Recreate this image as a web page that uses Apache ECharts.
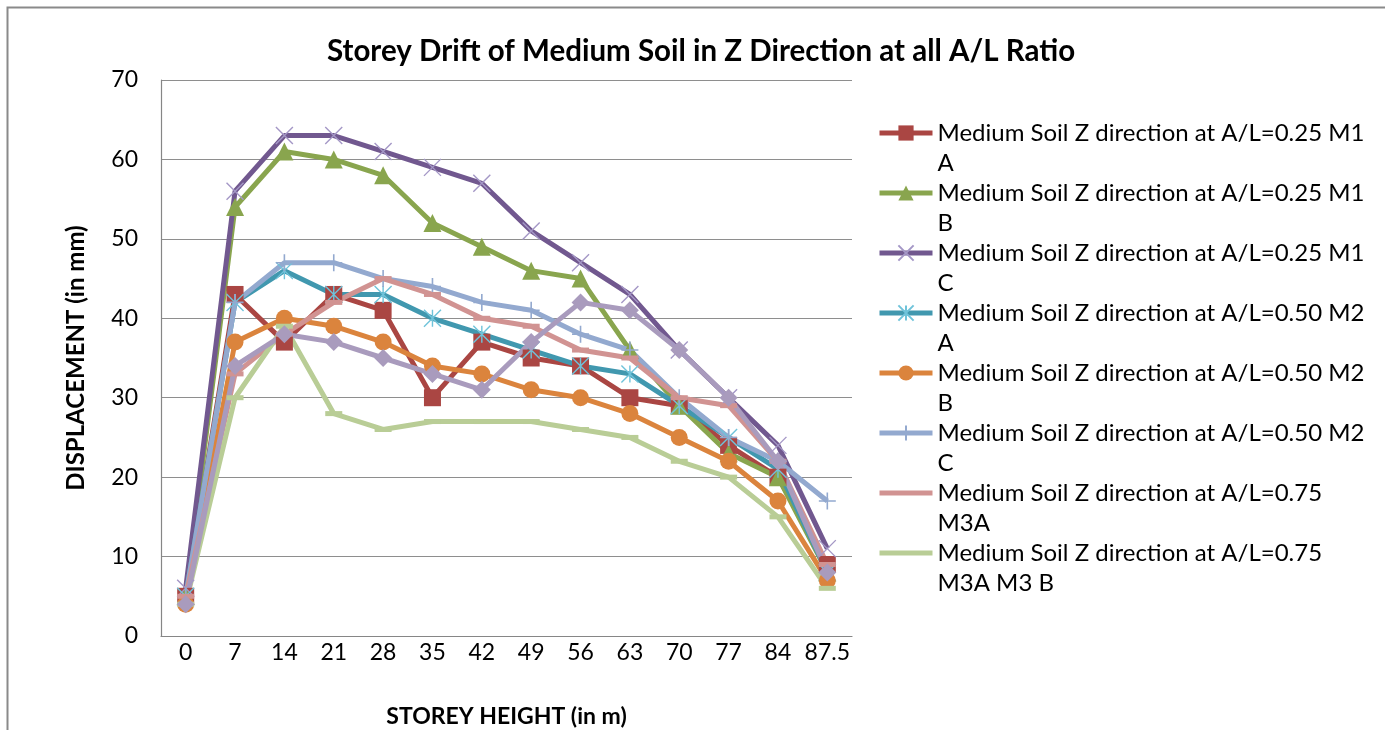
<!DOCTYPE html>
<html>
<head>
<meta charset="utf-8">
<script src="https://cdn.jsdelivr.net/npm/echarts@6/dist/echarts.min.js"></script>
<style>
  html, body { margin: 0; padding: 0; background: #fff; }
  #chart { width: 1385px; height: 730px; }
</style>
</head>
<body>
<div id="chart"></div>
<script>
// storey heights (m) and displacement (mm) per model
const heights = ['0', '7', '14', '21', '28', '35', '42', '49', '56', '63', '70', '77', '84', '87.5'];
const m1a = [5, 43, 37, 43, 41, 30, 37, 35, 34, 30, 29, 24, 20, 9];
const m1b = [5, 54, 61, 60, 58, 52, 49, 46, 45, 36, 29, 23, 20, 8];
const m1c = [6, 56, 63, 63, 61, 59, 57, 51, 47, 43, 36, 30, 24, 11];
const m2a = [5, 42, 46, 43, 43, 40, 38, 36, 34, 33, 29, 25, 21, 8];
const m2b = [4, 37, 40, 39, 37, 34, 33, 31, 30, 28, 25, 22, 17, 7];
const m2c = [5, 42, 47, 47, 45, 44, 42, 41, 38, 36, 30, 25, 22, 17];
const m3a = [5, 33, 38, 42, 45, 43, 40, 39, 36, 35, 30, 29, 22, 9];
const m3b = [4, 30, 39, 28, 26, 27, 27, 27, 26, 25, 22, 20, 15, 6];
const m3c = [4, 34, 38, 37, 35, 33, 31, 37, 42, 41, 36, 30, 22, 8];

const names = [
  'Medium Soil Z direction at A/L=0.25 M1\nA',
  'Medium Soil Z direction at A/L=0.25 M1\nB',
  'Medium Soil Z direction at A/L=0.25 M1\nC',
  'Medium Soil Z direction at A/L=0.50 M2\nA',
  'Medium Soil Z direction at A/L=0.50 M2\nB',
  'Medium Soil Z direction at A/L=0.50 M2\nC',
  'Medium Soil Z direction at A/L=0.75\nM3A',
  'Medium Soil Z direction at A/L=0.75\nM3A M3 B',
  'Medium Soil Z direction at A/L=0.75 M3 C'
];

const FONT = 'Lato';
const X_SYM = 'path://M0,0L10,10M10,0L0,10';
const STAR_SYM = 'path://M5,0L5,10M0,0L10,10M10,0L0,10';
const PLUS_SYM = 'path://M5,0L5,10M0,5L10,5';

function line(name, data, color, symbol, size, itemStyle) {
  return {
    name, type: 'line', data, symbol, symbolSize: size,
    lineStyle: { color, width: 5 },
    itemStyle: itemStyle || { color },
    emphasis: { disabled: true },
    animation: false
  };
}

// legend entries; the two dash-marker series show only their line
const legendData = names.slice(0, 8).map((n, i) => i >= 6 ? { name: n, itemStyle: { opacity: 0 } } : { name: n });

const chart = echarts.init(document.getElementById('chart'));
chart.setOption({
  animation: false,
  title: {
    text: 'Storey Drift of Medium Soil in Z Direction at all A/L Ratio',
    left: 327, top: 36, padding: 0,
    textStyle: { fontFamily: FONT, fontSize: 29.5, fontWeight: 'bold', color: '#000' }
  },
  graphic: [{
    type: 'polyline', silent: true,
    shape: { points: [[7.5, 730], [7.5, 7.5], [1385, 7.5]] },
    style: { stroke: '#8a8a8a', lineWidth: 2, fill: null }
  }],
  legend: {
    data: legendData,
    orient: 'vertical', left: 877, top: 88, padding: 0,
    itemWidth: 53, itemHeight: 19, itemGap: -30,
    selectedMode: false,
    lineStyle: { width: 5 },
    formatter: n => '\n' + n,
    textStyle: { fontFamily: FONT, fontSize: 24, lineHeight: 30, color: '#000' }
  },
  grid: { left: 161, right: 533, top: 80, bottom: 94, outerBoundsMode: 'none' },
  xAxis: {
    type: 'category', data: heights, boundaryGap: true,
    name: 'STOREY HEIGHT (in m)', nameLocation: 'middle', nameGap: 69,
    nameTextStyle: { fontFamily: FONT, fontSize: 23, fontWeight: 'bold', color: '#000' },
    axisLine: { lineStyle: { color: '#868686', width: 1.2 } },
    axisTick: { show: false },
    axisLabel: { fontFamily: FONT, fontSize: 23, color: '#000', margin: 5, interval: 0 }
  },
  yAxis: {
    type: 'value', min: 0, max: 70, interval: 10,
    name: 'DISPLACEMENT (in mm)', nameLocation: 'middle', nameGap: 73,
    nameTextStyle: { fontFamily: FONT, fontSize: 24, fontWeight: 'bold', color: '#000' },
    axisLine: { show: true, lineStyle: { color: '#868686', width: 1.2 } },
    axisTick: { show: false },
    splitLine: { lineStyle: { color: '#8e8e8e', width: 1.2 } },
    axisLabel: { fontFamily: FONT, fontSize: 23, color: '#000', margin: 23 }
  },
  series: [
    line(names[0], m1a, '#AA4643', 'rect', 17),
    line(names[1], m1b, '#89A54E', 'triangle', 18),
    line(names[2], m1c, '#71588F', X_SYM, 17, { color: 'rgba(0,0,0,0)', borderColor: '#A497C6', borderWidth: 1.4 }),
    line(names[3], m2a, '#4198AF', STAR_SYM, 17, { color: 'rgba(0,0,0,0)', borderColor: '#6FC3DA', borderWidth: 1.4 }),
    line(names[4], m2b, '#DB843D', 'circle', 17),
    line(names[5], m2c, '#93A9CF', PLUS_SYM, 17, { color: 'rgba(0,0,0,0)', borderColor: '#93A9CF', borderWidth: 1.6 }),
    line(names[6], m3a, '#D19392', 'rect', [17, 5]),
    line(names[7], m3b, '#B9CD96', 'rect', [17, 5]),
    line(names[8], m3c, '#A99BBD', 'diamond', 18)
  ]
});
</script>
</body>
</html>
